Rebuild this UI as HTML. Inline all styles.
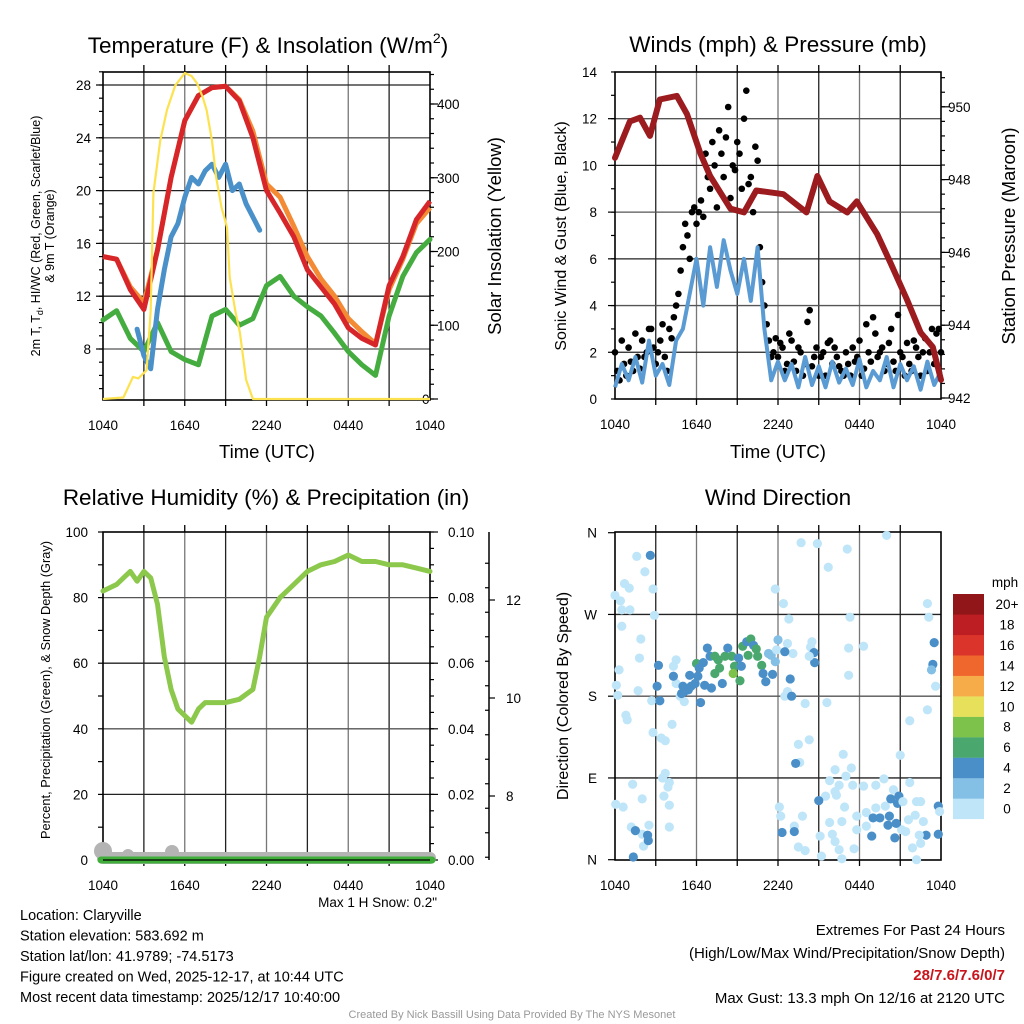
<!DOCTYPE html>
<html><head><meta charset="utf-8"><style>
body{margin:0;background:#fff}
svg{display:block;font-family:"Liberation Sans",sans-serif}
</style></head><body>
<svg id="c" width="1024" height="1024" viewBox="0 0 1024 1024" xmlns="http://www.w3.org/2000/svg"></svg>
<script>
// ---------- data ----------
const tempHours=[0,1,2,3,4,5,6,7,8,9,10,11,12,13,14,15,16,17,18,19,20,21,22,23,24];
const airTemp=[15,14.8,12.5,11,15.5,21,25.3,27.2,27.8,27.9,26.8,24,20,18.3,16.5,14,12.7,11.4,9.6,8.8,8.3,12.8,15,17.8,19.2];
const temp9m=[15,14.8,12.7,11.5,15.5,21,25.3,27.2,27.8,27.9,26.9,24.5,20.5,19.5,17.3,15,13.3,12,10.3,9.3,8.4,12.5,14.8,17.5,18.7];
const dewPoint=[10.2,10.9,8.8,7.8,10,7.8,7.2,6.8,10.5,11,9.8,10.3,12.8,13.5,12,11.2,10.5,9.2,7.8,6.8,6,10.5,13.5,15.3,16.3];
const wcHours=[2.5,3,3.5,4,4.5,5,5.5,6,6.5,7,7.5,8,8.5,9,9.5,10,10.5,11,11.5];
const windChill=[9.5,7.5,6.5,11,14,16.5,17.5,19.5,21,20.5,21.5,22,21,22,20,20.5,19,18,17];
const insolHours=[0,1.5,2.2,2.6,3.2,3.5,3.7,4.2,4.7,5.3,6,6.5,6.9,7.3,7.6,8,8.3,8.7,9.1,9.3,9.7,10.05,10.5,11,24];
const insol=[0,2,30,28,39,120,279,350,392,425,442,438,428,410,392,350,301,260,233,165,120,90,26,0,0];
const windHours=[];for(let i=0;i<=48;i++)windHours.push(i/2);
const windSpeed=[0.5,1.5,0.8,1.8,0.7,2.5,1.0,1.5,0.6,2.5,3.0,4.5,6.0,4.0,6.5,4.8,6.8,5.5,4.5,6.0,4.2,6.5,3.0,0.8,1.6,0.8,1.5,0.5,1.8,0.6,1.4,0.5,1.6,0.7,1.3,0.6,1.7,0.5,1.2,0.8,1.8,0.5,1.5,0.8,1.4,0.4,1.6,0.6,1.2];
const gustHours=[];for(let i=0;i<=72;i++)gustHours.push(i/3);
const windGust=[2.0,0.8,1.5,2.2,1.2,1.8,2.5,2.0,3.0,1.5,2.5,1.8,3.0,3.5,4.5,6.5,7.0,8.0,7.5,8.5,10.5,9.0,10.0,11.5,9.5,12.5,10.0,11.0,9.0,13.2,9.5,10.8,6.5,4.0,2.5,2.0,1.8,2.2,1.5,2.5,1.2,2.0,1.5,3.8,1.8,1.0,2.0,2.4,1.5,1.8,1.2,2.0,1.0,1.6,2.5,1.3,2.0,3.5,1.8,2.2,1.5,3.0,1.2,2.0,1.0,1.5,2.5,1.8,2.0,1.2,3.0,2.8,2.0];
const gust2Hours=[];for(let i=0;i<72;i++)gust2Hours.push(i/3+1/6);
const windGust2=[1.2,2.5,1.0,1.6,2.8,1.3,1.8,3.0,2.2,2.0,3.2,1.2,2.6,4.0,5.5,7.5,6.0,8.2,8.0,7.8,9.5,11.0,8.2,10.5,11.2,8.6,9.8,10.5,12.0,9.2,8.0,10.2,5.0,3.2,1.8,2.6,2.4,1.2,2.8,1.6,2.2,1.0,3.3,1.4,2.2,1.8,1.0,2.5,2.2,1.4,1.0,1.5,2.2,1.8,1.0,3.2,1.6,2.8,2.0,1.2,2.4,1.6,3.6,1.8,2.4,1.2,2.2,1.0,2.6,2.0,1.5,3.0];
const presHours=[0,1.1,1.84,2.58,3.3,4.55,5.3,6.3,7.0,8.5,9.5,10.4,12.4,14.1,14.9,15.8,17.1,17.8,19.3,20.3,21.5,22.5,23.4,24];
const pressure=[948.6,949.6,949.7,949.2,950.2,950.3,949.8,948.7,948.1,947.2,947.1,947.7,947.6,947.1,948.1,947.4,947.1,947.4,946.5,945.7,944.7,943.8,943.4,942.5];
const rhHours=[0,1,2,2.5,3,3.5,4,4.5,5,5.5,6,6.5,7,7.5,8,9,10,11,11.5,12,12.5,13,14,15,16,17,18,19,20,21,22,23,24];
const rh=[82,84,88,85,88,86,78,62,52,46,44,42,46,48,48,48,49,52,62,74,77,80,84,88,90,91,93,91,91,90,90,89,88];
const dirHours=[1.6,2.2,0.7,1.05,2.8,0,0.4,0.5,1.1,2.9,0.5,1.9,1.8,0.3,0.1,1.7,0.2,2.7,0.8,0.9,4.2,2.8,3.4,3.7,3.7,3.5,4.0,1.3,3.9,3.6,2.0,0.05,0.6,4.0,1.2,2.5,4.0,2.0,2.1,
2.6,3.2,3.1,3.3,1.5,2.4,2.45,1.35,
4.5,4.3,4.5,4.8,5.1,4.3,5.5,6.0,6.2,6.5,6.8,7.0,7.35,7.6,7.35,7.7,8.1,8.3,8.6,8.8,8.7,9.2,9.1,9.3,9.4,9.7,10.0,10.2,10.4,9.8,10.5,10.8,10.9,11.1,11.6,11.3,11.5,11.8,12.0,5.1,5.4,5.6,5.9,6.1,6.6,7.1,7.9,6.3,4.9,5.0,
11.8,12.4,12.8,12.7,13.1,11.9,12.5,12.7,12.5,13.0,12.9,14.0,13.7,14.9,17.1,15.7,20.0,17.3,18.3,17.2,14.5,14.4,14.65,14.7,14.3,17.2,15.6,13.5,14.3,13.6,13.3,16.8,17.4,16.2,17.0,15.8,16.5,17.5,18.3,19.2,19.8,20.5,21.0,21.7,21.7,23.0,23.0,23.1,23.5,23.4,23.3,23.6,
15.5,16.2,16.3,15.0,16.9,17.8,18.5,19.2,19.9,20.7,20.9,20.3,20.8,21.2,22.2,22.5,22.1,22.7,21.6,21.1,19.0,19.5,20.2,20.7,20.1,18.9,20.6,22.9,23.8,23.8,23.9,22.4,21.9,22.5,21.4,18.5,17.8,16.7,15.8,15.1,16.0,16.2,16.5,17.6,16.7,15.2,14.0,13.5,13.2,12.3,13.2,12.2,12.1,13.8,22.2];
const dirDeg=[334,317,304,299,298,291,285,275,275,269,257,243,222,209,192,186,181,175,159,154,149,140,134,131,95,90,85,83,80,70,67,61,58,60,36,38,36,28,15,
335,214,191,175,32,27,21,3,
220,213,194,180,174,202,203,216,211,217,233,224,224,220,205,211,224,233,224,213,205,197,222,213,235,240,243,236,232,225,224,214,205,196,204,227,225,218,242,185,187,191,194,202,192,189,194,173,183,191,
298,282,265,238,227,231,229,185,180,180,199,172,349,348,342,322,357,267,235,233,240,234,228,217,224,203,173,127,132,107,106,116,101,99,92,87,82,82,81,82,89,77,115,153,85,165,282,267,239,215,209,191,
70,75,71,65,58,48,52,57,59,65,70,67,62,64,64,64,49,42,44,33,46,46,48,40,38,26,24,27,59,28,53,27,13,18,31,37,33,42,41,26,28,20,11,12,1,4,10,14,37,30,31,48,58,48,0];
const dirSpeed=[1,1,1,1,1,1,1,1,1,1,1,1,1,1,1,1,1,1,1,1,1,1,1,1,1,1,1,1,1,1,1,1,1,1,1,1,1,1,1,
5,5,5,5,5,5,5,5,
1,1,1,1,1,5,5,7,5,5,5,5,7,7,7,7,7,5,7,7,9,7,5,5,7,5,7,5,7,7,7,7,5,5,5,3,3,3,3,5,5,5,5,5,5,5,5,5,5,5,
1,1,1,1,1,1,5,1,1,5,5,1,1,1,1,1,1,1,1,1,1,1,5,5,1,1,1,1,1,1,5,1,1,1,1,1,1,1,1,1,1,1,1,1,1,1,1,1,5,5,3,1,
1,1,1,5,1,1,1,1,1,1,5,5,5,1,1,1,1,1,1,1,5,5,5,5,5,5,5,5,5,5,1,1,1,1,1,1,1,1,1,1,1,1,1,1,1,1,1,1,1,5,5,1,1,1,1];
const speedBins=['0','2','4','6','8','10','12','14','16','18','20+'];
const speedColors=['#bfe5f9','#84bfe6','#4a8fc8','#4aa86f','#7dc24b','#e7e05b','#f6ac48','#ef672c','#db342a','#bc1e24','#911619'];

// ---------- helpers ----------
const NS='http://www.w3.org/2000/svg';
const svg=document.getElementById('c');
function mk(tag,attrs,parent){const e=document.createElementNS(NS,tag);for(const k in attrs)e.setAttribute(k,attrs[k]);(parent||svg).appendChild(e);return e;}
function txt(s,x,y,size,anchor,extra){const e=mk('text',Object.assign({x:x,y:y,'font-size':size,'text-anchor':anchor||'middle',fill:'#000'},extra||{}));e.textContent=s;return e;}
function linePath(xs,ys,fx,fy){let d='';for(let i=0;i<xs.length;i++){if(ys[i]==null)continue;d+=(d?'L':'M')+fx(xs[i]).toFixed(1)+','+fy(ys[i]).toFixed(1);}return d;}

const P1={x0:103,x1:430,y0:72,y1:400};
const P2={x0:615,x1:941,y0:72,y1:399};
const P3={x0:103,x1:430,y0:532,y1:860};
const P4={x0:615,x1:941,y0:532,y1:860};
function xs(P){return h=>P.x0+h*(P.x1-P.x0)/24;}
const x1f=xs(P1),x2f=xs(P2),x3f=xs(P3),x4f=xs(P4);
const tY=v=>85+(28-v)*13.2;
const iY=v=>399-v*0.7375;
const wY=v=>399-v*23.36;
const pY=v=>398-(v-942)*36.4;
const rY=v=>860-v*3.28;
const dY=v=>859.7-v*327/360;

function grid(P,nameP,hy){
  const g=mk('g',{});
  
  
  for(let i=1;i<8;i++){const x=P.x0+i*(P.x1-P.x0)/8;
    mk('line',{x1:x,x2:x,y1:P.y0,y2:P.y1,stroke:i%2?'#222':'#777','stroke-width':1.3},g);
    mk('line',{x1:x,x2:x,y1:P.y0-7,y2:P.y0,stroke:'#000','stroke-width':1.3},g);
    mk('line',{x1:x,x2:x,y1:P.y1,y2:P.y1+6,stroke:'#000','stroke-width':1.3},g);}
  hy.forEach((y,i)=>mk('line',{x1:P.x0,x2:P.x1,y1:y,y2:y,stroke:i%2?'#555':'#222','stroke-width':1.3},g));
  const b=mk('rect',{x:P.x0,y:P.y0,width:P.x1-P.x0,height:P.y1-P.y0,fill:'none',stroke:'#000','stroke-width':1.6});
  
  
  const lab=['1040','1640','2240','0440','1040'];
  lab.forEach((s,i)=>{const t=txt(s,P.x0+i*(P.x1-P.x0)/4,P.y1+30,13.5);
    
    });
}
function ticks(x,ys,dir,len){ys.forEach(y=>{const l=mk('line',{x1:x,x2:x+dir*len,y1:y,y2:y,stroke:'#000','stroke-width':1.2});
  
  });}

// ---------- titles ----------
let t;
t=txt('',268,53,22.5);t.innerHTML='Temperature (F) &amp; Insolation (W/m<tspan font-size="14" dy="-10">2</tspan><tspan dy="10">)</tspan>';


t=txt('Winds (mph) & Pressure (mb)',778,52,22.5);


t=txt('Relative Humidity (%) & Precipitation (in)',266,505,22.5);


t=txt('Wind Direction',778,505,22.5);



// ---------- panel 1 ----------
const p1h=[28,24,20,16,12,8].map(tY);
grid(P1,'temperature',p1h);
[8,12,16,20,24,28].forEach(v=>{const e=txt(String(v),91,tY(v)+5,13.5,'end');
  
  });
const minor1=[];for(let v=5;v<=29;v++)minor1.push(tY(v));ticks(P1.x0,minor1,-1,4);ticks(P1.x0,p1h,-1,7);
const rIns=[];for(let v=0;v<=440;v+=20)rIns.push(iY(v));ticks(P1.x1,rIns,1,4);
ticks(P1.x1,[0,100,200,300,400].map(iY),1,8);
[0,100,200,300,400].forEach(v=>{const e=txt(String(v),v?437:422,iY(v)+5,13.5,'start');
  
  });
t=txt('Time (UTC)',267,458,18.5);


t=txt('',0,0,12.5,'middle',{transform:'translate(40,236) rotate(-90)'});
t.innerHTML='2m T, T<tspan font-size="9" dy="3">d</tspan><tspan dy="-3">, HI/WC (Red, Green, Scarlet/Blue)</tspan>';


t=txt('& 9m T (Orange)',0,0,12.5,'middle',{transform:'translate(54,236) rotate(-90)'});


t=txt('Solar Insolation (Yellow)',0,0,18.5,'middle',{transform:'translate(501,236) rotate(-90)'});


let s;
s=mk('path',{d:linePath(tempHours,dewPoint,x1f,tY),fill:'none',stroke:'#45ad40','stroke-width':5,'stroke-linejoin':'round','stroke-linecap':'round'});


s=mk('path',{d:linePath(wcHours,windChill,x1f,tY),fill:'none',stroke:'#4a90c9','stroke-width':5,'stroke-linejoin':'round','stroke-linecap':'round'});


s=mk('path',{d:linePath(tempHours,temp9m,x1f,tY),fill:'none',stroke:'#f48a33','stroke-width':5,'stroke-linejoin':'round'});


s=mk('path',{d:linePath(tempHours,airTemp,x1f,tY),fill:'none',stroke:'#d7262a','stroke-width':5,'stroke-linejoin':'round'});


s=mk('path',{d:linePath(insolHours,insol,x1f,iY),fill:'none',stroke:'#fde24f','stroke-width':2.2,'stroke-linejoin':'round'});



// ---------- panel 2 ----------
const p2h=[];for(let v=2;v<=12;v+=2)p2h.push(wY(v));
grid(P2,'winds',p2h);
for(let v=0;v<=14;v+=2){const e=txt(String(v),597,wY(v)+5,13.5,'end');
  
  }
const m2=[];for(let v=0;v<=14;v++)m2.push(wY(v));ticks(P2.x0,m2,-1,4);ticks(P2.x0,p2h,-1,7);
const pr=[];for(let v=942;v<=950.8;v+=0.4)pr.push(pY(v));ticks(P2.x1,pr,1,4);
ticks(P2.x1,[942,944,946,948,950].map(pY),1,8);
[942,944,946,948,950].forEach(v=>{const e=txt(String(v),948,pY(v)+5,13.5,'start');
  
  });
t=txt('Time (UTC)',778,458,18.5);


t=txt('Sonic Wind & Gust (Blue, Black)',0,0,16,'middle',{transform:'translate(566,236) rotate(-90)'});


t=txt('Station Pressure (Maroon)',0,0,18.5,'middle',{transform:'translate(1015,236) rotate(-90)'});


for(let i=0;i<windGust.length;i++){const c=mk('circle',{cx:x2f(gustHours[i]),cy:wY(windGust[i]),r:3.3,fill:'#000'});
  
  }
for(let i=0;i<windGust2.length;i++){const c=mk('circle',{cx:x2f(gust2Hours[i]),cy:wY(windGust2[i]),r:3.3,fill:'#000'});
  
  }
s=mk('path',{d:linePath(windHours,windSpeed,x2f,wY),fill:'none',stroke:'#5a9bd4','stroke-width':4,'stroke-linejoin':'round'});


s=mk('path',{d:linePath(presHours,pressure,x2f,pY),fill:'none',stroke:'#9b1b1e','stroke-width':6,'stroke-linejoin':'round','stroke-linecap':'round'});



// ---------- panel 3 ----------
const p3h=[20,40,60,80].map(rY);
grid(P3,'humidity',p3h);
for(let v=0;v<=100;v+=20){const e=txt(String(v),88,rY(v)+5,13.5,'end');
  
  }
const m3=[];for(let v=0;v<=100;v+=10)m3.push(rY(v));ticks(P3.x0,m3,-1,5);
const m3r=[];for(let v=0;v<=100;v+=5)m3r.push(rY(v));ticks(P3.x1,m3r,1,4);ticks(P3.x1,p3h.concat([rY(0),rY(100)]),1,8);
['0.00','0.02','0.04','0.06','0.08','0.10'].forEach((s2,i)=>{const e=txt(s2,448,rY(i*20)+5,13.5,'start');
  
  });
s=mk('line',{x1:489,x2:489,y1:532,y2:860,stroke:'#000','stroke-width':1.5});


const sy=v=>698-(v-10)*49;
const sm=[];for(let v=6.75;v<=13.2;v+=0.5)sm.push(sy(v));ticks(489,sm,-1,4);ticks(489,[8,10,12].map(sy),1,6);
['8','10','12'].forEach(s2=>{const e=txt(s2,506,sy(+s2)+5,13.5,'start');
  
  });
t=txt('Percent, Precipitation (Green), & Snow Depth (Gray)',0,0,12.8,'middle',{transform:'translate(50,690) rotate(-90)'});


s=mk('path',{d:linePath(rhHours,rh,x3f,rY),fill:'none',stroke:'#8cc84b','stroke-width':5,'stroke-linejoin':'round','stroke-linecap':'round'});


s=mk('path',{d:'M103,858 L430,858',stroke:'#b4b4b4','stroke-width':12,'stroke-linecap':'round'});


[[103,851,9],[128,855,6],[172,852,7]].forEach(a=>{const c=mk('circle',{cx:a[0],cy:a[1],r:a[2],fill:'#b4b4b4'});
  
  });
s=mk('path',{d:'M101,860 L432,860',stroke:'#3fae3a','stroke-width':7,'stroke-linecap':'round'});


s=mk('line',{x1:103,x2:430,y1:860,y2:860,stroke:'#000','stroke-width':1.3});
t=txt('Max 1 H Snow: 0.2"',437,907,13.5,'end');



// ---------- panel 4 ----------
const p4h=[90,180,270].map(dY);
grid(P4,'wind-direction',p4h);
['N','E','S','W','N'].forEach((s2,i)=>{const e=txt(s2,597,dY(i*90)+5,13.5,'end');
  
  });
ticks(P4.x0,[0,90,180,270,360].map(dY),-1,7);
t=txt('Direction (Colored By Speed)',0,0,16,'middle',{transform:'translate(568,696) rotate(-90)'});


for(let i=0;i<dirHours.length;i++){const bin=Math.min(10,Math.floor(dirSpeed[i]/2));
  const c=mk('circle',{cx:x4f(dirHours[i]),cy:dY(dirDeg[i]),r:4.6,fill:speedColors[bin]});
  
  }
t=txt('mph',1005,587,13.5);


for(let i=0;i<11;i++){const y=594+(10-i)*20.45;
  const r=mk('rect',{x:953,y:y,width:31,height:20.6,fill:speedColors[i]});
  
  
  const e=txt(speedBins[i],1007,y+15,13.5);
  
  }

// ---------- footer ----------
['Location: Claryville','Station elevation: 583.692 m','Station lat/lon: 41.9789; -74.5173','Figure created on Wed, 2025-12-17, at 10:44 UTC','Most recent data timestamp: 2025/12/17 10:40:00'].forEach((s2,i)=>{
  const e=txt(s2,20,920+i*20.5,14.5,'start');
  
  });
t=txt('Extremes For Past 24 Hours',1005,935,15,'end');


t=txt('(High/Low/Max Wind/Precipitation/Snow Depth)',1005,958,15,'end');


t=txt('28/7.6/7.6/0/7',1005,980,15,'end',{fill:'#c8141c','font-weight':'bold'});


t=txt('Max Gust: 13.3 mph On 12/16 at 2120 UTC',1005,1003,15,'end');


t=txt('Created By Nick Bassill Using Data Provided By The NYS Mesonet',512,1018,11,'middle',{fill:'#999'});


</script>
</body></html>
